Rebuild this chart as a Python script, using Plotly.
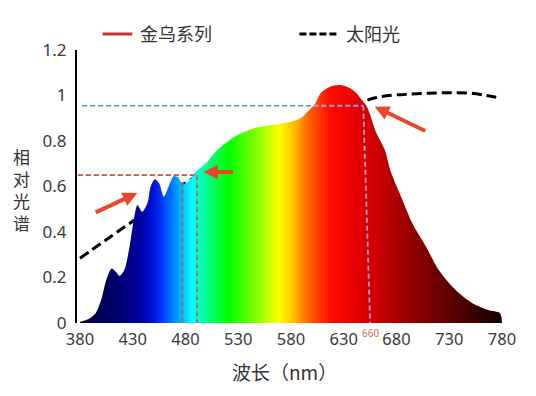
import plotly.graph_objects as go

# ---------------- data ----------------
led_nm = [380, 389, 395, 400, 405, 410, 414, 417.5, 422, 427, 431.5, 434.5, 439, 444, 447,
          451, 455, 459.5, 464, 469, 473, 477, 481.5, 486, 491, 499, 508, 518, 527, 545,
          561, 580, 589, 596, 603, 608, 617, 627, 636, 642, 647, 652, 661, 669, 674, 683,
          695, 708, 720, 736, 752, 767, 778, 780]
led_val = [0.005, 0.02, 0.044, 0.10, 0.19, 0.24, 0.225, 0.207, 0.233, 0.335, 0.467, 0.519,
           0.489, 0.527, 0.60, 0.632, 0.614, 0.555, 0.60, 0.646, 0.64, 0.614, 0.617, 0.643,
           0.67, 0.70, 0.75, 0.79, 0.82, 0.856, 0.87, 0.885, 0.90, 0.93, 0.965, 1.01, 1.039,
           1.046, 1.032, 1.01, 0.98, 0.951, 0.834, 0.76, 0.673, 0.57, 0.438, 0.335, 0.233,
           0.145, 0.087, 0.057, 0.043, 0.0]

sun_nm = [380, 400, 420, 440, 460, 480, 500, 520, 550, 580, 610, 635, 648, 660, 672, 690,
          710, 730, 750, 765, 777]
sun_val = [0.285, 0.35, 0.415, 0.48, 0.55, 0.615, 0.675, 0.73, 0.79, 0.845, 0.9, 0.945,
           0.972, 0.99, 1.0, 1.005, 1.01, 1.012, 1.01, 1.0, 0.99]

x_ticks = [380, 430, 480, 530, 580, 630, 680, 730, 780]
y_ticks = [0, 0.2, 0.4, 0.6, 0.8, 1.0, 1.2]
y_ticktext = ["0", "0.2", "0.4", "0.6", "0.8", "1", "1.2"]

# guide lines
red_h_nm = [378, 491]
red_h_val = [0.65, 0.65]
red_v1_nm = [477, 477]
red_v1_val = [0.62, 0.0]
red_v2_nm = [491, 491]
red_v2_val = [0.65, 0.0]
blue_h_nm = [382, 601]
blue_h_val = [0.955, 0.955]
blue_h2_nm = [601, 648.5]
blue_h2_val = [0.955, 0.955]
blue_v_nm = [648.5, 655]
blue_v_val = [0.955, 0.0]
mark_nm = 655
mark_text = "660"

series_names = ["金乌系列", "太阳光"]
x_title = "波长（nm）"
y_title = "相<br>对<br>光<br>谱"

# spectrum colour stops (nm, colour)
spec_nm = [380, 395, 415, 435, 448, 458, 467, 476, 485, 495, 505, 519, 545, 566, 580, 595,
           615, 640, 660, 698, 736, 780]
spec_col = ["#140028", "#000048", "#000070", "#00009a", "#0010d8", "#0040ff", "#0080ff",
            "#00c0ff", "#00ffff", "#00ffb0", "#00ff60", "#00ff00", "#80ff00", "#ffff00",
            "#ffc000", "#ff6000", "#ff0a00", "#e40000", "#c80000", "#880000", "#500000",
            "#0a0000"]

# ---------------- figure ----------------
OFF = 8  # page body margin
W, H = 520, 380
L, T = 77 - OFF, 50 - OFF
R = W - (510 - OFF)
B = H - (323 - OFF)
pw, ph = W - L - R, H - T - B
x0_rng = 380 - 3 / 1.0675
x1_rng = x0_rng + pw / 1.0675


def px(xs):  # screen pixel -> paper
    return (xs - OFF - L) / pw


def py(ys):
    return (H - B - (ys - OFF)) / ph


font_fam = "Noto Sans, Noto Sans CJK SC, sans-serif"
cjk_fam = "Noto Sans CJK SC, Noto Sans, sans-serif"

fig = go.Figure()

fig.add_trace(go.Scatter(x=sun_nm, y=sun_val, mode="lines", line_shape="spline",
                         line=dict(color="black", width=3, dash="10px,5px"),
                         hoverinfo="skip"))

cs = [[(n - 380) / 400, c] for n, c in zip(spec_nm, spec_col)]
fig.add_trace(go.Scatter(x=led_nm, y=led_val, mode="lines", line_shape="spline",
                         line=dict(width=0, smoothing=0.8), fill="tozeroy",
                         fillgradient=dict(type="horizontal", colorscale=cs,
                                           start=380, stop=780),
                         hoverinfo="skip"))

red_c = "#d9503a"
for xs, ys in [(red_h_nm, red_h_val), (red_v1_nm, red_v1_val), (red_v2_nm, red_v2_val)]:
    fig.add_trace(go.Scatter(x=xs, y=ys, mode="lines",
                             line=dict(color=red_c, width=1.6, dash="5px,3px"),
                             hoverinfo="skip"))
fig.add_trace(go.Scatter(x=blue_h_nm, y=blue_h_val, mode="lines",
                         line=dict(color="#3d9bd8", width=1.6, dash="5px,3px"),
                         hoverinfo="skip"))
for xs, ys in [(blue_h2_nm, blue_h2_val), (blue_v_nm, blue_v_val)]:
    fig.add_trace(go.Scatter(x=xs, y=ys, mode="lines",
                             line=dict(color="#a2a4d4", width=1.8, dash="5px,3px"),
                             hoverinfo="skip"))

arrow_c = "#e8472b"
arrows = [
    dict(x=434.3, y=0.571, ax=-43, ay=20),
    dict(x=497.1, y=0.664, ax=31, ay=0),
    dict(x=659.4, y=0.951, ax=52, ay=25),
]
for a in arrows:
    fig.add_annotation(x=a["x"], y=a["y"], ax=a["ax"], ay=a["ay"], xref="x", yref="y",
                       text="", showarrow=True, arrowhead=2, arrowsize=0.72,
                       arrowwidth=4, arrowcolor=arrow_c, standoff=0)

# 660 marker label
fig.add_annotation(x=mark_nm, y=py(333), xref="x", yref="paper", text=mark_text,
                   showarrow=False, font=dict(size=10, color="#e06a6a", family=font_fam),
                   yanchor="middle")

# axis titles
fig.add_annotation(x=px(286.5), y=py(371), xref="paper", yref="paper", text=x_title,
                   showarrow=False, font=dict(size=19, color="#333333", family=cjk_fam),
                   xanchor="center", yanchor="middle")
fig.add_annotation(x=px(21), y=py(189), xref="paper", yref="paper", text=y_title,
                   showarrow=False, font=dict(size=17, color="#333333", family=cjk_fam),
                   xanchor="center", yanchor="middle")

# legend
fig.add_shape(type="line", xref="paper", yref="paper", x0=px(103), x1=px(133),
              y0=py(34), y1=py(34), line=dict(color="#c8302c", width=3))
fig.add_annotation(x=px(139), y=py(33), xref="paper", yref="paper", text=series_names[0],
                   showarrow=False, font=dict(size=18, color="#333333", family=cjk_fam),
                   xanchor="left", yanchor="middle")
fig.add_shape(type="line", xref="paper", yref="paper", x0=px(302), x1=px(342),
              y0=py(34), y1=py(34), line=dict(color="black", width=3, dash="7px,3px"))
fig.add_annotation(x=px(347), y=py(33), xref="paper", yref="paper", text=series_names[1],
                   showarrow=False, font=dict(size=18, color="#333333", family=cjk_fam),
                   xanchor="left", yanchor="middle")

fig.update_layout(
    width=W, height=H, margin=dict(l=L, r=R, t=T, b=B),
    paper_bgcolor="white", plot_bgcolor="white", showlegend=False,
    xaxis=dict(range=[x0_rng, x1_rng], tickvals=x_ticks, showgrid=False, zeroline=False,
               showline=False, ticks="", tickfont=dict(size=16.5, color="#3a3a3a",
                                                      family=font_fam),
               ticklabelstandoff=4),
    yaxis=dict(range=[0, 1.2], tickvals=y_ticks, ticktext=y_ticktext, showgrid=False,
               zeroline=False, showline=True, linecolor="black", linewidth=2, ticks="",
               tickfont=dict(size=17, color="#3a3a3a", family=font_fam),
               ticklabelstandoff=5),
)

fig.write_html("out.html")
